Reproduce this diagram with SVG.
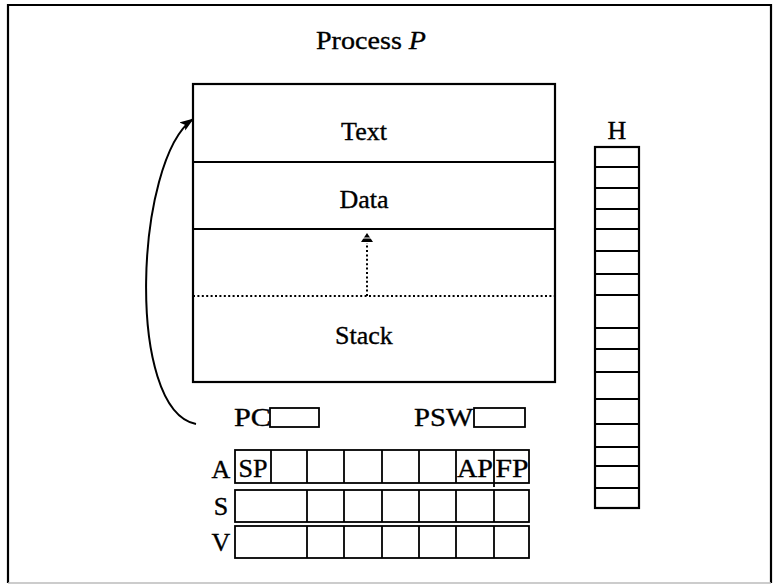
<svg xmlns="http://www.w3.org/2000/svg" width="776" height="584" viewBox="0 0 776 584">
  <style>
    .lbl { font-family: "Liberation Serif", "Times New Roman", serif; font-size: 26px; fill: #000; stroke: #000; stroke-width: 0.35; }
    .mid { text-anchor: middle; }
    .box { fill: none; stroke: #000; stroke-width: 2.2; }
    .cell { fill: none; stroke: #000; stroke-width: 1.8; }
    .thin { stroke: #000; stroke-width: 1.8; }
  </style>
  <defs>
    <marker id="arrowhead" viewBox="0 0 14 10" refX="13" refY="5" markerWidth="7" markerHeight="5.5" orient="auto" markerUnits="strokeWidth">
      <path d="M0,0 L14,5 L0,10 L3,5 Z" fill="#000"/>
    </marker>
  </defs>

  <rect width="776" height="584" fill="#fff"/>

  <!-- outer frame -->
  <g id="frame">
    <path d="M8,583 L8,5 L771,5 L771,583" class="box"/>
    <line x1="8" y1="583" x2="771" y2="583" stroke="#bbb" stroke-width="1.5"/>
    <text x="316" y="49" class="lbl" textLength="110" lengthAdjust="spacingAndGlyphs">Process <tspan font-style="italic">P</tspan></text>
  </g>

  <!-- address space: text, data, gap, stack -->
  <g id="memory">
    <rect x="193" y="84" width="362" height="298" class="box"/>
    <line x1="193" y1="162" x2="555" y2="162" class="thin" stroke-width="2.2"/>
    <line x1="193" y1="229" x2="555" y2="229" class="thin" stroke-width="2.2"/>
    <line x1="193" y1="296" x2="555" y2="296" stroke="#000" stroke-width="2" stroke-dasharray="2 2.4"/>
    <text x="364" y="140" class="lbl mid">Text</text>
    <text x="364" y="208" class="lbl mid">Data</text>
    <text x="364" y="344" class="lbl mid">Stack</text>
  </g>

  <!-- H stack column -->
  <g id="h-column">
    <text x="617" y="139" class="lbl mid">H</text>
    <rect x="595" y="147" width="44" height="361" class="box"/>
    <path class="thin" d="M595,167H639 M595,188H639 M595,209H639 M595,229H639 M595,251H639 M595,274H639 M595,295H639 M595,328H639 M595,349H639 M595,372H639 M595,399H639 M595,424H639 M595,447H639 M595,466H639 M595,488H639"/>
  </g>

  <!-- PC register -->
  <g id="pc">
    <text x="234" y="426" class="lbl" textLength="37" lengthAdjust="spacingAndGlyphs">PC</text>
    <rect x="270" y="408" width="49" height="19" class="cell"/>
  </g>

  <!-- PSW register -->
  <g id="psw">
    <text x="414" y="426" class="lbl" textLength="59" lengthAdjust="spacingAndGlyphs">PSW</text>
    <rect x="474" y="408" width="51" height="19" class="cell"/>
  </g>

  <!-- A register row -->
  <g id="reg-a">
    <text x="221" y="478" class="lbl mid">A</text>
    <rect x="235" y="450" width="294" height="33" class="cell"/>
    <path class="thin" d="M271,450V483 M307,450V483 M344,450V483 M382,450V483 M419,450V483 M456,450V483 M494,450V487"/>
    <text x="253" y="477" class="lbl mid" textLength="29" lengthAdjust="spacingAndGlyphs">SP</text>
    <text x="475" y="477" class="lbl mid" textLength="36" lengthAdjust="spacingAndGlyphs">AP</text>
    <text x="512" y="477" class="lbl mid" textLength="33" lengthAdjust="spacingAndGlyphs">FP</text>
  </g>

  <!-- S register row -->
  <g id="reg-s">
    <text x="221" y="515" class="lbl mid">S</text>
    <rect x="235" y="490" width="294" height="32" class="cell"/>
    <path class="thin" d="M307,490V522 M344,490V522 M382,490V522 M419,490V522 M456,490V522 M494,490V522"/>
  </g>

  <!-- V register row -->
  <g id="reg-v">
    <text x="221" y="551" class="lbl mid">V</text>
    <rect x="235" y="526" width="294" height="32" class="cell"/>
    <path class="thin" d="M307,526V558 M344,526V558 M382,526V558 M419,526V558 M456,526V558 M494,526V558"/>
  </g>

  <!-- connectors -->
  <g id="connectors">
    <path d="M196,424 C125,410 135,160 193,119" fill="none" stroke="#000" stroke-width="2" marker-end="url(#arrowhead)"/>
    <line x1="367" y1="296" x2="367" y2="243" stroke="#000" stroke-width="2" stroke-dasharray="2 2.4"/>
    <path d="M367,233 L373,242 L361,242 Z" fill="#000"/>
    <line x1="360" y1="238" x2="374" y2="238" stroke="#fff" stroke-width="1"/>
  </g>
</svg>
